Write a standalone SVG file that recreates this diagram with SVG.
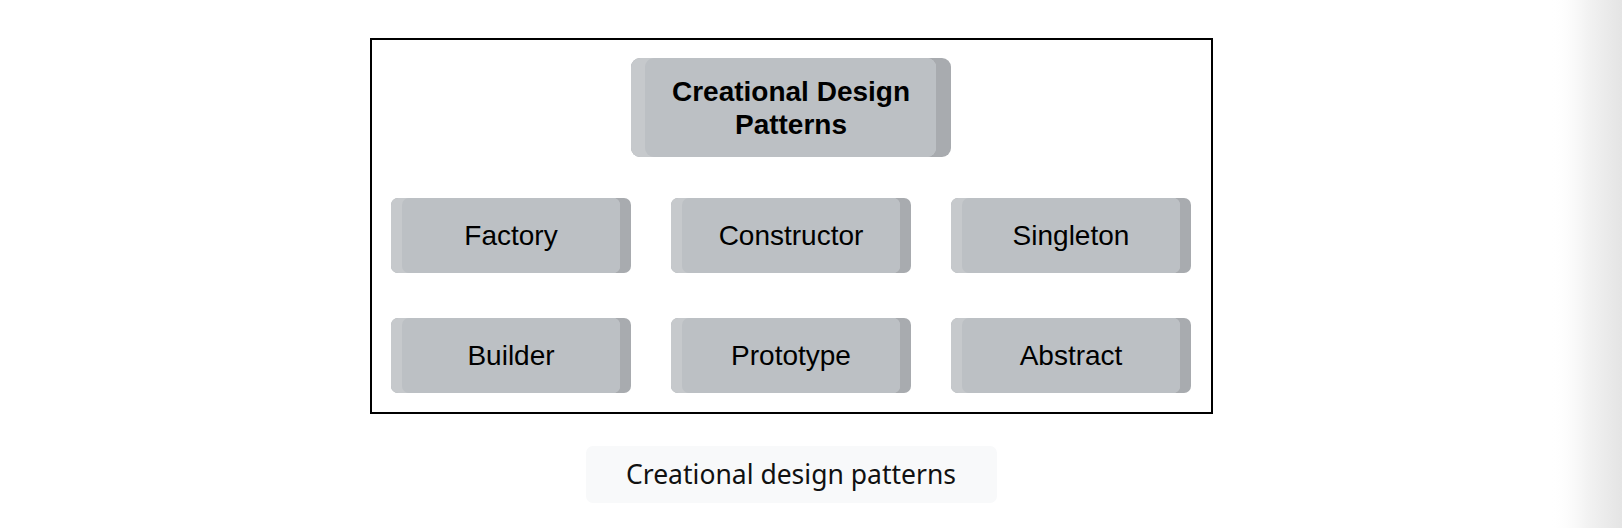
<svg xmlns="http://www.w3.org/2000/svg" width="1622" height="528" viewBox="0 0 1622 528">
<defs>
<linearGradient id="edge" x1="0" y1="0" x2="1" y2="0">
<stop offset="0" stop-color="#ffffff" stop-opacity="0"/>
<stop offset="0.5" stop-color="#f3f3f3"/>
<stop offset="1" stop-color="#e4e4e4"/>
</linearGradient>
</defs>
<style>
.dark{fill:#a8abaf}
.light{fill:#c6c9cc}
.main{fill:#bcc0c4}
.lbl{font-family:"Liberation Sans",Arial,sans-serif;font-size:28px;fill:#000;text-anchor:middle}
.ttl{font-family:"Liberation Sans",Arial,sans-serif;font-size:28px;font-weight:bold;fill:#000;text-anchor:middle}
.cap{font-family:"Noto Sans",sans-serif;font-size:26.5px;fill:#111;text-anchor:middle}
</style>
<rect width="1622" height="528" fill="#ffffff"/>
<rect x="1550" y="0" width="72" height="528" fill="url(#edge)"/>
<rect id="frame" x="371" y="39" width="841" height="374" fill="none" stroke="#000" stroke-width="2"/>
<g id="connectors"></g>
<g id="top">
<rect class="dark" x="631" y="58" width="320" height="99" rx="9"/>
<rect class="light" x="631" y="58" width="305" height="99" rx="9"/>
<rect class="main" x="645" y="58" width="291" height="99" rx="9"/>
<text class="ttl" x="791" y="101">Creational Design</text>
<text class="ttl" x="791" y="134">Patterns</text>
</g>
<g id="factory">
<rect class="dark" x="391" y="198" width="240" height="75" rx="7"/>
<rect class="light" x="391" y="198" width="229" height="75" rx="7"/>
<rect class="main" x="402" y="198" width="218" height="75" rx="7"/>
<text class="lbl" x="511" y="245">Factory</text>
</g>
<g id="constructor">
<rect class="dark" x="671" y="198" width="240" height="75" rx="7"/>
<rect class="light" x="671" y="198" width="229" height="75" rx="7"/>
<rect class="main" x="682" y="198" width="218" height="75" rx="7"/>
<text class="lbl" x="791" y="245">Constructor</text>
</g>
<g id="singleton">
<rect class="dark" x="951" y="198" width="240" height="75" rx="7"/>
<rect class="light" x="951" y="198" width="229" height="75" rx="7"/>
<rect class="main" x="962" y="198" width="218" height="75" rx="7"/>
<text class="lbl" x="1071" y="245">Singleton</text>
</g>
<g id="builder">
<rect class="dark" x="391" y="318" width="240" height="75" rx="7"/>
<rect class="light" x="391" y="318" width="229" height="75" rx="7"/>
<rect class="main" x="402" y="318" width="218" height="75" rx="7"/>
<text class="lbl" x="511" y="365">Builder</text>
</g>
<g id="prototype">
<rect class="dark" x="671" y="318" width="240" height="75" rx="7"/>
<rect class="light" x="671" y="318" width="229" height="75" rx="7"/>
<rect class="main" x="682" y="318" width="218" height="75" rx="7"/>
<text class="lbl" x="791" y="365">Prototype</text>
</g>
<g id="abstract">
<rect class="dark" x="951" y="318" width="240" height="75" rx="7"/>
<rect class="light" x="951" y="318" width="229" height="75" rx="7"/>
<rect class="main" x="962" y="318" width="218" height="75" rx="7"/>
<text class="lbl" x="1071" y="365">Abstract</text>
</g>
<g id="caption">
<rect x="586" y="446" width="411" height="57" rx="7" fill="#f8f9fa"/>
<text class="cap" x="791" y="484">Creational design patterns</text>
</g>
</svg>
